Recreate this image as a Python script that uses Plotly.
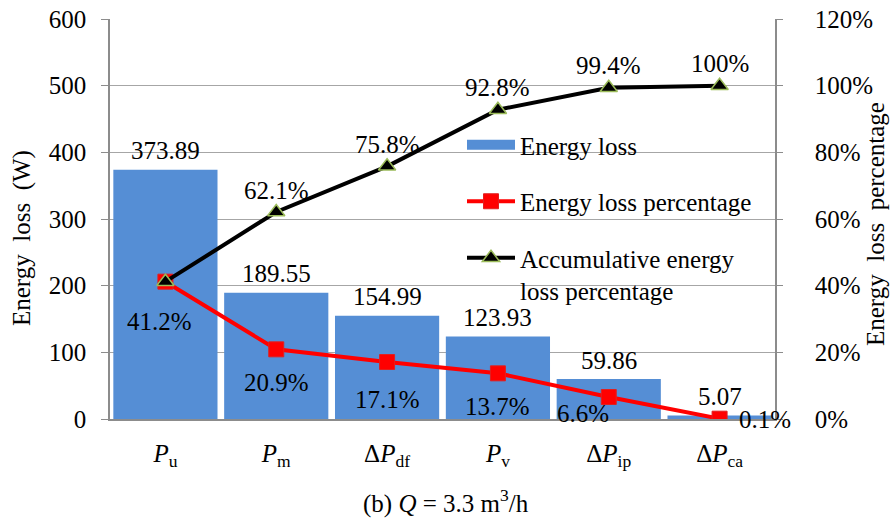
import plotly.graph_objects as go

# Loss components (x-axis categories)
categories = [
    "<i>P</i><sub>u</sub>",
    "<i>P</i><sub>m</sub>",
    "Δ<i>P</i><sub>df</sub>",
    "<i>P</i><sub>v</sub>",
    "Δ<i>P</i><sub>ip</sub>",
    "Δ<i>P</i><sub>ca</sub>",
]
# Energy loss of each component (W)
energy_loss = [373.89, 189.55, 154.99, 123.93, 59.86, 5.07]
# Share of each component (%)
loss_pct = [41.2, 20.9, 17.1, 13.7, 6.6, 0.1]
# Running total of the shares (%)
cum_pct = [41.2, 62.1, 75.8, 92.8, 99.4, 100]

left_ticks = [0, 100, 200, 300, 400, 500, 600]
right_ticks = [0, 20, 40, 60, 80, 100, 120]
right_labels = [f"{t}%" for t in right_ticks]

FONT = "Liberation Serif"
FS = 25
BAR_COLOR = "#558ED5"
GRID = "#A6A6A6"
AXIS = "#8C8C8C"

W, H = 890, 520
L, R, T, B = 110, 115, 19, 101
pw, ph = W - L - R, H - T - B


def px_to_paper(xp, yp):
    return (xp - L) / pw, (H - B - yp) / ph


fig = go.Figure()

fig.add_trace(go.Bar(
    x=categories, y=energy_loss, name="Energy loss",
    marker=dict(color=BAR_COLOR, line=dict(width=0)),
    showlegend=False, yaxis="y",
))
# wide blue swatch for the bar entry in the legend
fig.add_trace(go.Scatter(
    x=[None], y=[None], name="Energy loss", mode="lines",
    line=dict(color=BAR_COLOR, width=12), legendgroup="a",
))
fig.add_trace(go.Scatter(
    x=categories, y=loss_pct, name="Energy loss percentage",
    mode="lines+markers", yaxis="y2", legendgroup="b",
    line=dict(color="#FF0000", width=4),
    marker=dict(symbol="square", size=15, color="#FF0000",
                line=dict(color="#E02020", width=1)),
))
fig.add_trace(go.Scatter(
    x=categories, y=cum_pct, name="Accumulative energy<br>loss percentage",
    mode="lines+markers", yaxis="y2", legendgroup="c",
    line=dict(color="#000000", width=4),
    marker=dict(symbol="triangle-up", size=15, color="#000000",
                line=dict(color="#9BBB59", width=1.5)),
))

annotations = []
txt = dict(family=FONT, size=FS, color="#000000")

# Values above the bars
for c, v in zip(categories, energy_loss):
    annotations.append(dict(x=c, y=v, xref="x", yref="y", text=f"{v:.2f}",
                            showarrow=False, yshift=19, font=txt))

# Percentage labels under the red markers
pct_shift = [(-6, -40), (0, -33), (0, -37), (0, -33), (-26, -16), (45, -1)]
for c, v, (dx, dy) in zip(categories, loss_pct, pct_shift):
    annotations.append(dict(x=c, y=v, xref="x", yref="y2", text=f"{v:g}%",
                            showarrow=False, xshift=dx, yshift=dy, font=txt))

# Cumulative labels above the black markers (first coincides with the red one)
for c, v in list(zip(categories, cum_pct))[1:]:
    annotations.append(dict(x=c, y=v, xref="x", yref="y2", text=f"{v:g}%",
                            showarrow=False, yshift=22, font=txt))

# Axis titles and caption, placed in pixels
for text, xp, yp, ang in [
    ("Energy  loss  (W)", 22, 238, -90),
    ("Energy  loss  percentage", 876, 224, -90),
    ("(b) <i>Q</i> = 3.3 m<sup>3</sup>/h", 446, 501, 0),
]:
    ax, ay = px_to_paper(xp, yp)
    annotations.append(dict(x=ax, y=ay, xref="paper", yref="paper",
                            xanchor="center", yanchor="middle",
                            text=text, showarrow=False, textangle=ang,
                            font=txt))

lx, ly = px_to_paper(462, 122)

fig.update_layout(
    width=W, height=H,
    margin=dict(l=L, r=R, t=T, b=B),
    paper_bgcolor="white", plot_bgcolor="white",
    font=dict(family=FONT, size=FS, color="#000000"),
    bargap=0.06,
    showlegend=True,
    legend=dict(x=lx, y=ly, xanchor="left", yanchor="top",
                bgcolor="rgba(0,0,0,0)", traceorder="grouped",
                tracegroupgap=21, valign="top", itemwidth=48,
                font=dict(family=FONT, size=FS, color="#000000")),
    xaxis=dict(range=[-0.5, len(categories) - 0.5], autorange=False,
               showgrid=False, showline=True, linecolor=AXIS, linewidth=1.5,
               ticks="", tickfont=dict(family=FONT, size=FS),
               ticklabelstandoff=11, automargin=False),
    yaxis=dict(range=[0, 600], tickvals=left_ticks, showgrid=True,
               gridcolor=GRID, gridwidth=1.3, showline=True, linecolor=AXIS,
               linewidth=1.5, ticks="outside", ticklen=7, tickcolor=AXIS,
               ticklabelstandoff=10, zeroline=False, automargin=False,
               tickfont=dict(family=FONT, size=FS)),
    yaxis2=dict(range=[0, 120], tickvals=right_ticks, ticktext=right_labels,
                overlaying="y", side="right", showgrid=False, showline=True,
                linecolor=AXIS, linewidth=1.5, ticks="outside", ticklen=6,
                tickcolor=AXIS, ticklabelstandoff=27, zeroline=False,
                automargin=False, tickfont=dict(family=FONT, size=FS)),
    annotations=annotations,
)

fig.write_html("out.html")
